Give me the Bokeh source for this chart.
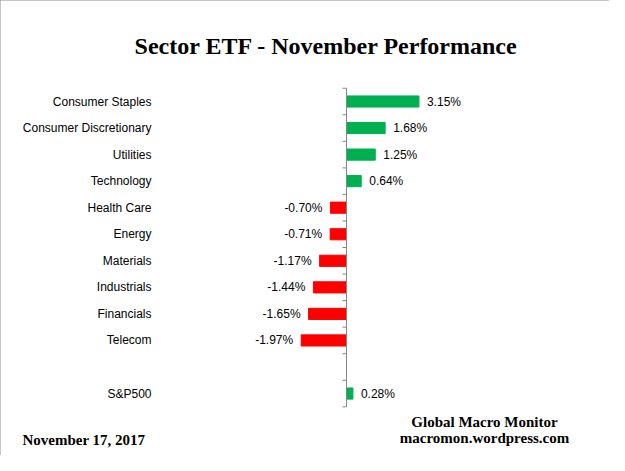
from bokeh.plotting import figure
from bokeh.models import ColumnDataSource, Range1d
from bokeh.core.properties import value
from bokeh.embed import file_html
from bokeh.resources import INLINE

# ---- data ----
categories = ["Consumer Staples", "Consumer Discretionary", "Utilities", "Technology",
              "Health Care", "Energy", "Materials", "Industrials", "Financials",
              "Telecom", "", "S&P500"]
values = [3.15, 1.68, 1.25, 0.64, -0.70, -0.71, -1.17, -1.44, -1.65, -1.97, None, 0.28]
title_text = "Sector ETF - November Performance"
date_text = "November 17, 2017"
source_lines = ["Global Macro Monitor", "macromon.wordpress.com"]

GREEN = "#00B050"
RED = "#FF0000"
AXIS = "#868686"

W, H = 609, 455
ZERO_PX = 346.0      # pixel x of the value axis
PX_PER_UNIT = 23.0   # pixels per 1%
ROW0_PX = 101.0      # pixel y of first row centre
ROW_PX = 26.55       # pixels per row


def px2x(px):
    return (px - ZERO_PX) / PX_PER_UNIT


def py2y(py):
    return (py - ROW0_PX) / ROW_PX


rows = [(i, c, v) for i, (c, v) in enumerate(zip(categories, values)) if v is not None]
src = ColumnDataSource(dict(
    pos=[i for i, c, v in rows],
    val=[v for i, c, v in rows],
    color=[GREEN if v >= 0 else RED for i, c, v in rows],
    label=[f"{v:.2f}%" for i, c, v in rows],
    align=["left" if v >= 0 else "right" for i, c, v in rows],
    xoff=[8 if v >= 0 else -8 for i, c, v in rows],
))
cat_src = ColumnDataSource(dict(pos=list(range(len(categories))), name=categories))

p = figure(width=W, height=H, output_backend="svg", toolbar_location=None,
           x_range=Range1d(px2x(0), px2x(W)),
           y_range=Range1d(py2y(H), py2y(0)),
           min_border=0, x_axis_location=None, y_axis_location=None)
p.outline_line_color = None
p.grid.visible = False
p.background_fill_color = "white"
p.border_fill_color = "white"
p.styles = {"outline": "2px solid #8c8c8c", "outline-offset": "-2px"}

# bars
p.hbar(y="pos", left=0, right="val", height=0.42, color="color", source=src)

# zero axis with ticks at category boundaries
n = len(categories)
p.segment(x0=[0], x1=[0], y0=[-0.5], y1=[n - 0.5], line_color=AXIS, line_width=1)
tick_len = 4 / PX_PER_UNIT
bounds = [k - 0.5 for k in range(n + 1)]
p.segment(x0=[0] * len(bounds), x1=[-tick_len] * len(bounds), y0=bounds, y1=bounds,
          line_color=AXIS, line_width=1)

# category labels (left side)
p.text(x=px2x(151), y="pos", text="name", source=cat_src, text_align="right",
       text_baseline="middle", text_font=value("Liberation Sans"),
       text_font_size="12px", text_color="#000000")

# value labels
p.text(x="val", y="pos", text="label", source=src, text_align="align",
       x_offset="xoff", text_baseline="middle", text_font=value("Liberation Sans"),
       text_font_size="12px", text_color="#000000")

# title & footer
serif = value("Liberation Serif")
p.text(x=[px2x(326)], y=[py2y(45)], text=[title_text], text_font=serif,
       text_font_style="bold", text_font_size="24px", text_align="center",
       text_baseline="alphabetic", text_color="#000000")
p.text(x=[px2x(22)], y=[py2y(439)], text=[date_text], text_font=serif,
       text_font_style="bold", text_font_size="15px", text_align="left",
       text_baseline="alphabetic", text_color="#000000")
p.text(x=[px2x(484), px2x(484)], y=[py2y(421), py2y(437)], text=source_lines,
       text_font=serif, text_font_style="bold", text_font_size="15px",
       text_align="center", text_baseline="alphabetic", text_color="#000000")

open("out.html", "w").write(file_html(p, INLINE))
